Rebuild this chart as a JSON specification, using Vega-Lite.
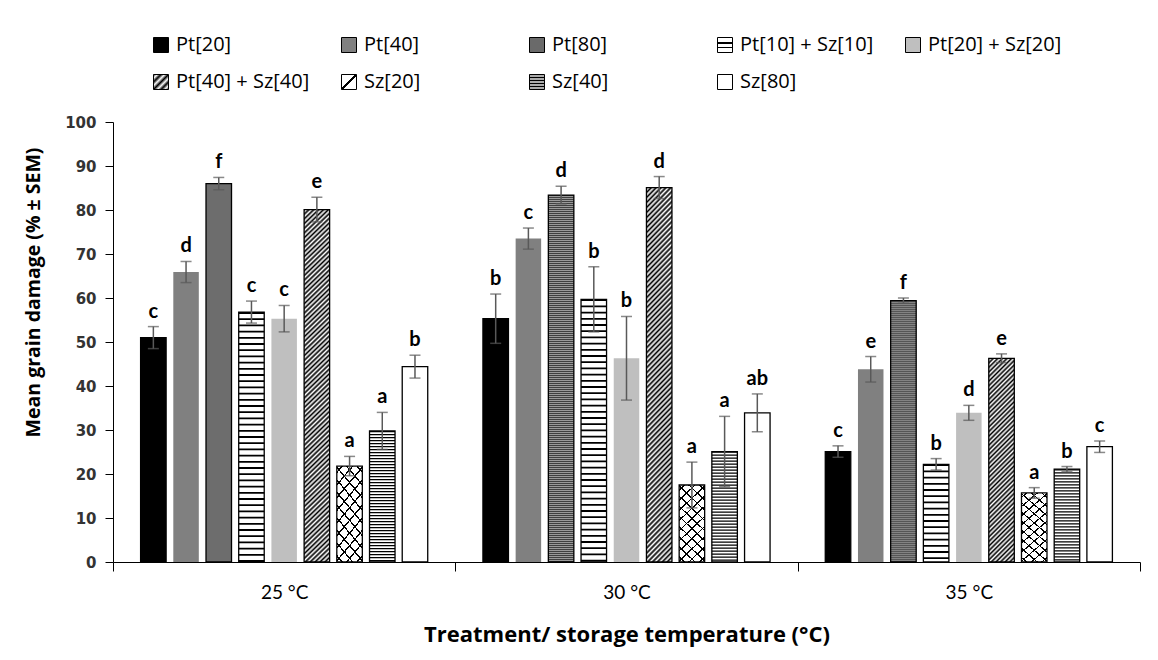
{
  "$schema": "https://vega.github.io/schema/vega-lite/v6.json",
  "width": 1027,
  "height": 440,
  "autosize": {"type": "none"},
  "padding": {"left": 113, "top": 122, "right": 18, "bottom": 98},
  "background": "white",
  "config": {"view": {"stroke": null}, "font": "Lato", "axis": {"grid": false}},
  "data": {"values": [
    {"temp": "25 °C", "treatment": "Pt[20]", "mean": 51.0, "lo": 48.5, "hi": 53.5, "letter": "c"},
    {"temp": "25 °C", "treatment": "Pt[40]", "mean": 65.9, "lo": 63.5, "hi": 68.3, "letter": "d"},
    {"temp": "25 °C", "treatment": "Pt[80]", "mean": 86.0, "lo": 84.6, "hi": 87.4, "letter": "f"},
    {"temp": "25 °C", "treatment": "Pt[10] + Sz[10]", "mean": 56.8, "lo": 54.3, "hi": 59.3, "letter": "c"},
    {"temp": "25 °C", "treatment": "Pt[20] + Sz[20]", "mean": 55.3, "lo": 52.3, "hi": 58.3, "letter": "c"},
    {"temp": "25 °C", "treatment": "Pt[40] + Sz[40]", "mean": 80.1, "lo": 77.3, "hi": 82.9, "letter": "e"},
    {"temp": "25 °C", "treatment": "Sz[20]", "mean": 21.8, "lo": 19.6, "hi": 24.0, "letter": "a"},
    {"temp": "25 °C", "treatment": "Sz[40]", "mean": 29.8, "lo": 25.6, "hi": 34.0, "letter": "a"},
    {"temp": "25 °C", "treatment": "Sz[80]", "mean": 44.4, "lo": 41.8, "hi": 47.0, "letter": "b"},
    {"temp": "30 °C", "treatment": "Pt[20]", "mean": 55.3, "lo": 49.7, "hi": 60.9, "letter": "b"},
    {"temp": "30 °C", "treatment": "Pt[40]", "mean": 73.5, "lo": 71.1, "hi": 75.9, "letter": "c"},
    {"temp": "30 °C", "treatment": "Pt[80]", "mean": 83.4, "lo": 81.4, "hi": 85.4, "letter": "d"},
    {"temp": "30 °C", "treatment": "Pt[10] + Sz[10]", "mean": 59.7, "lo": 52.3, "hi": 67.1, "letter": "b"},
    {"temp": "30 °C", "treatment": "Pt[20] + Sz[20]", "mean": 46.3, "lo": 36.8, "hi": 55.8, "letter": "b"},
    {"temp": "30 °C", "treatment": "Pt[40] + Sz[40]", "mean": 85.1, "lo": 82.6, "hi": 87.6, "letter": "d"},
    {"temp": "30 °C", "treatment": "Sz[20]", "mean": 17.5, "lo": 12.3, "hi": 22.7, "letter": "a"},
    {"temp": "30 °C", "treatment": "Sz[40]", "mean": 25.1, "lo": 17.1, "hi": 33.1, "letter": "a"},
    {"temp": "30 °C", "treatment": "Sz[80]", "mean": 33.9, "lo": 29.6, "hi": 38.2, "letter": "ab"},
    {"temp": "35 °C", "treatment": "Pt[20]", "mean": 25.1, "lo": 23.8, "hi": 26.4, "letter": "c"},
    {"temp": "35 °C", "treatment": "Pt[40]", "mean": 43.8, "lo": 40.9, "hi": 46.7, "letter": "e"},
    {"temp": "35 °C", "treatment": "Pt[80]", "mean": 59.4, "lo": 58.8, "hi": 60.0, "letter": "f"},
    {"temp": "35 °C", "treatment": "Pt[10] + Sz[10]", "mean": 22.2, "lo": 20.9, "hi": 23.5, "letter": "b"},
    {"temp": "35 °C", "treatment": "Pt[20] + Sz[20]", "mean": 33.9, "lo": 32.2, "hi": 35.6, "letter": "d"},
    {"temp": "35 °C", "treatment": "Pt[40] + Sz[40]", "mean": 46.3, "lo": 45.3, "hi": 47.3, "letter": "e"},
    {"temp": "35 °C", "treatment": "Sz[20]", "mean": 15.7, "lo": 14.5, "hi": 16.9, "letter": "a"},
    {"temp": "35 °C", "treatment": "Sz[40]", "mean": 21.1, "lo": 20.5, "hi": 21.7, "letter": "b"},
    {"temp": "35 °C", "treatment": "Sz[80]", "mean": 26.2, "lo": 24.9, "hi": 27.5, "letter": "c"}
  ]},
  "encoding": {
    "x": {
      "field": "temp", "type": "nominal", "sort": ["25 °C", "30 °C", "35 °C"],
      "scale": {"paddingInner": 0, "paddingOuter": 0},
      "axis": {
        "title": "Treatment/ storage temperature (°C)", "labelAngle": 0, "tickBand": "extent",
        "tickSize": 9, "tickColor": "#000", "domainColor": "#000", "grid": false,
        "labelFont": "Lato", "labelFontSize": 19, "labelColor": "#000", "labelPadding": 12,
        "titleFont": "Open Sans", "titleFontSize": 22, "titleFontWeight": "bold", "titleColor": "#000",
        "titleY": 72, "titleBaseline": "middle"
      }
    },
    "xOffset": {
      "field": "treatment", "type": "nominal",
      "sort": ["Pt[20]", "Pt[40]", "Pt[80]", "Pt[10] + Sz[10]", "Pt[20] + Sz[20]", "Pt[40] + Sz[40]", "Sz[20]", "Sz[40]", "Sz[80]"],
      "scale": {"paddingInner": 0.22, "paddingOuter": 0.844}
    }
  },
  "layer": [
    {
      "mark": {"type": "bar"},
      "encoding": {
        "y": {
          "field": "mean", "type": "quantitative", "scale": {"domain": [0, 100]},
          "axis": {
            "title": "Mean grain damage (% ± SEM)", "values": [0, 10, 20, 30, 40, 50, 60, 70, 80, 90, 100],
            "grid": false, "tickSize": 8, "tickColor": "#000", "domainColor": "#000",
            "labelFont": "DejaVu Sans", "labelFontWeight": "bold", "labelFontSize": 15, "labelColor": "#333", "labelPadding": 9,
            "titleFont": "Open Sans", "titleFontSize": 19.5, "titleFontWeight": "bold", "titleColor": "#000",
            "titleX": -89, "titleY": 170, "titleAngle": -90, "titleAlign": "center", "titleBaseline": "top"
          }
        },
        "fill": {
          "field": "treatment", "type": "nominal",
          "scale": {
            "domain": ["Pt[20]", "Pt[40]", "Pt[80]", "Pt[10] + Sz[10]", "Pt[20] + Sz[20]", "Pt[40] + Sz[40]", "Sz[20]", "Sz[40]", "Sz[80]"],
            "range": [
              "#000000",
              "#808080",
              "#6a6a6a",
              {"expr": "{gradient: 'linear', x1: 1, y1: 0, x2: 1, y2: 1, stops: [{offset: 0, color: '#fff'}, {offset: 0.3, color: '#fff'}, {offset: 0.3, color: '#000'}, {offset: 0.4, color: '#000'}, {offset: 0.4, color: '#fff'}, {offset: 0.6, color: '#fff'}, {offset: 0.6, color: '#000'}, {offset: 0.7, color: '#000'}, {offset: 0.7, color: '#fff'}, {offset: 1, color: '#fff'}]}"},
              "#bfbfbf",
              {"expr": "{gradient: 'linear', x1: 0, y1: 0, x2: 1, y2: 1, stops: [{offset: 0, color: '#000'}, {offset: 0.125, color: '#fff'}, {offset: 0.25, color: '#000'}, {offset: 0.375, color: '#fff'}, {offset: 0.5, color: '#000'}, {offset: 0.625, color: '#fff'}, {offset: 0.75, color: '#000'}, {offset: 0.875, color: '#fff'}, {offset: 1, color: '#000'}]}"},
              {"expr": "{gradient: 'linear', x1: 0, y1: 0, x2: 1, y2: 1, stops: [{offset: 0, color: '#fff'}, {offset: 0.44, color: '#fff'}, {offset: 0.44, color: '#000'}, {offset: 0.56, color: '#000'}, {offset: 0.56, color: '#fff'}, {offset: 1, color: '#fff'}]}"},
              {"expr": "{gradient: 'linear', x1: 1, y1: 0, x2: 1, y2: 1, stops: [{offset: 0, color: '#000'}, {offset: 0.1, color: '#fff'}, {offset: 0.2, color: '#000'}, {offset: 0.3, color: '#fff'}, {offset: 0.4, color: '#000'}, {offset: 0.5, color: '#fff'}, {offset: 0.6, color: '#000'}, {offset: 0.7, color: '#fff'}, {offset: 0.8, color: '#000'}, {offset: 0.9, color: '#fff'}, {offset: 1, color: '#000'}]}"},
              "#ffffff"
            ]
          },
          "legend": {
            "title": null, "orient": "none", "legendX": 38, "legendY": -87, "direction": "horizontal", "columns": 5,
            "gridAlign": "all", "columnPadding": 29, "rowPadding": 17, "padding": 0,
            "symbolType": "square", "symbolSize": 225, "symbolStrokeColor": "#000", "symbolStrokeWidth": 1, "symbolOpacity": 1,
            "labelFont": "Open Sans", "labelFontSize": 20, "labelColor": "#000", "labelOffset": 5, "labelLimit": 300
          }
        }
      }
    },
    {
      "transform": [{"filter": "datum.treatment === 'Pt[80]' || datum.treatment === 'Pt[10] + Sz[10]' || datum.treatment === 'Sz[20]' || datum.treatment === 'Sz[40]'"}],
      "mark": {"type": "bar"},
      "encoding": {
        "y": {"field": "mean", "type": "quantitative", "title": "Mean grain damage (% ± SEM)"},
        "fill": {"condition": {"test": "datum.treatment === 'Pt[80]'", "value": "#9a9a9a"}, "value": "#ffffff"}
      }
    },
    {
      "transform": [{"filter": "datum.treatment === 'Pt[80]'"}],
      "mark": {"type": "rule", "strokeWidth": 25.5, "strokeDash": [1, 1], "color": "#404040"},
      "encoding": {"y": {"field": "mean", "type": "quantitative", "title": "Mean grain damage (% ± SEM)"}, "y2": {"datum": 0}}
    },
    {
      "transform": [{"filter": "datum.treatment === 'Pt[10] + Sz[10]'"}],
      "mark": {"type": "rule", "strokeWidth": 25.5, "strokeDash": [1.8, 4.4], "color": "#000"},
      "encoding": {"y": {"field": "mean", "type": "quantitative", "title": "Mean grain damage (% ± SEM)"}, "y2": {"datum": 0}}
    },
    {
      "transform": [{"filter": "datum.treatment === 'Sz[40]'"}],
      "mark": {"type": "rule", "strokeWidth": 25.5, "strokeDash": [1.3, 1.7], "color": "#000"},
      "encoding": {"y": {"field": "mean", "type": "quantitative", "title": "Mean grain damage (% ± SEM)"}, "y2": {"datum": 0}}
    },
    {
      "transform": [{"filter": "datum.treatment === 'Pt[40] + Sz[40]'"}],
      "mark": {"type": "bar"},
      "encoding": {
        "y": {"field": "mean", "type": "quantitative", "title": "Mean grain damage (% ± SEM)"},
        "fill": {
          "condition": {
            "test": "datum.temp === '35 °C'",
            "value": {"gradient": "linear", "x1": 0, "y1": 0, "x2": 0.1381, "y2": 1.1075, "stops": [
              {"offset": 0, "color": "#000"}, {"offset": 0.01, "color": "#fff"}, {"offset": 0.02, "color": "#000"}, {"offset": 0.03, "color": "#fff"}, {"offset": 0.04, "color": "#000"}, {"offset": 0.05, "color": "#fff"}, {"offset": 0.06, "color": "#000"}, {"offset": 0.07, "color": "#fff"}, {"offset": 0.08, "color": "#000"}, {"offset": 0.09, "color": "#fff"},
              {"offset": 0.1, "color": "#000"}, {"offset": 0.11, "color": "#fff"}, {"offset": 0.12, "color": "#000"}, {"offset": 0.13, "color": "#fff"}, {"offset": 0.14, "color": "#000"}, {"offset": 0.15, "color": "#fff"}, {"offset": 0.16, "color": "#000"}, {"offset": 0.17, "color": "#fff"}, {"offset": 0.18, "color": "#000"}, {"offset": 0.19, "color": "#fff"},
              {"offset": 0.2, "color": "#000"}, {"offset": 0.21, "color": "#fff"}, {"offset": 0.22, "color": "#000"}, {"offset": 0.23, "color": "#fff"}, {"offset": 0.24, "color": "#000"}, {"offset": 0.25, "color": "#fff"}, {"offset": 0.26, "color": "#000"}, {"offset": 0.27, "color": "#fff"}, {"offset": 0.28, "color": "#000"}, {"offset": 0.29, "color": "#fff"},
              {"offset": 0.3, "color": "#000"}, {"offset": 0.31, "color": "#fff"}, {"offset": 0.32, "color": "#000"}, {"offset": 0.33, "color": "#fff"}, {"offset": 0.34, "color": "#000"}, {"offset": 0.35, "color": "#fff"}, {"offset": 0.36, "color": "#000"}, {"offset": 0.37, "color": "#fff"}, {"offset": 0.38, "color": "#000"}, {"offset": 0.39, "color": "#fff"},
              {"offset": 0.4, "color": "#000"}, {"offset": 0.41, "color": "#fff"}, {"offset": 0.42, "color": "#000"}, {"offset": 0.43, "color": "#fff"}, {"offset": 0.44, "color": "#000"}, {"offset": 0.45, "color": "#fff"}, {"offset": 0.46, "color": "#000"}, {"offset": 0.47, "color": "#fff"}, {"offset": 0.48, "color": "#000"}, {"offset": 0.49, "color": "#fff"},
              {"offset": 0.5, "color": "#000"}, {"offset": 0.51, "color": "#fff"}, {"offset": 0.52, "color": "#000"}, {"offset": 0.53, "color": "#fff"}, {"offset": 0.54, "color": "#000"}, {"offset": 0.55, "color": "#fff"}, {"offset": 0.56, "color": "#000"}, {"offset": 0.57, "color": "#fff"}, {"offset": 0.58, "color": "#000"}, {"offset": 0.59, "color": "#fff"},
              {"offset": 0.6, "color": "#000"}, {"offset": 0.61, "color": "#fff"}, {"offset": 0.62, "color": "#000"}, {"offset": 0.63, "color": "#fff"}, {"offset": 0.64, "color": "#000"}, {"offset": 0.65, "color": "#fff"}, {"offset": 0.66, "color": "#000"}, {"offset": 0.67, "color": "#fff"}, {"offset": 0.68, "color": "#000"}, {"offset": 0.69, "color": "#fff"},
              {"offset": 0.7, "color": "#000"}, {"offset": 0.71, "color": "#fff"}, {"offset": 0.72, "color": "#000"}, {"offset": 0.73, "color": "#fff"}, {"offset": 0.74, "color": "#000"}, {"offset": 0.75, "color": "#fff"}, {"offset": 0.76, "color": "#000"}, {"offset": 0.77, "color": "#fff"}, {"offset": 0.78, "color": "#000"}, {"offset": 0.79, "color": "#fff"},
              {"offset": 0.8, "color": "#000"}, {"offset": 0.81, "color": "#fff"}, {"offset": 0.82, "color": "#000"}, {"offset": 0.83, "color": "#fff"}, {"offset": 0.84, "color": "#000"}, {"offset": 0.85, "color": "#fff"}, {"offset": 0.86, "color": "#000"}, {"offset": 0.87, "color": "#fff"}, {"offset": 0.88, "color": "#000"}, {"offset": 0.89, "color": "#fff"},
              {"offset": 0.9, "color": "#000"}, {"offset": 0.91, "color": "#fff"}, {"offset": 0.92, "color": "#000"}, {"offset": 0.93, "color": "#fff"}, {"offset": 0.94, "color": "#000"}, {"offset": 0.95, "color": "#fff"}, {"offset": 0.96, "color": "#000"}, {"offset": 0.97, "color": "#fff"}, {"offset": 0.98, "color": "#000"}, {"offset": 0.99, "color": "#fff"},
              {"offset": 1, "color": "#000"}
            ]}
          },
          "value": {"gradient": "linear", "x1": 0, "y1": 0, "x2": 0.0745, "y2": 1.065, "stops": [
            {"offset": 0, "color": "#000"}, {"offset": 0.00625, "color": "#fff"}, {"offset": 0.0125, "color": "#000"}, {"offset": 0.01875, "color": "#fff"}, {"offset": 0.025, "color": "#000"}, {"offset": 0.03125, "color": "#fff"}, {"offset": 0.0375, "color": "#000"}, {"offset": 0.04375, "color": "#fff"}, {"offset": 0.05, "color": "#000"}, {"offset": 0.05625, "color": "#fff"}, {"offset": 0.0625, "color": "#000"}, {"offset": 0.06875, "color": "#fff"}, {"offset": 0.075, "color": "#000"}, {"offset": 0.08125, "color": "#fff"}, {"offset": 0.0875, "color": "#000"}, {"offset": 0.09375, "color": "#fff"},
            {"offset": 0.1, "color": "#000"}, {"offset": 0.10625, "color": "#fff"}, {"offset": 0.1125, "color": "#000"}, {"offset": 0.11875, "color": "#fff"}, {"offset": 0.125, "color": "#000"}, {"offset": 0.13125, "color": "#fff"}, {"offset": 0.1375, "color": "#000"}, {"offset": 0.14375, "color": "#fff"}, {"offset": 0.15, "color": "#000"}, {"offset": 0.15625, "color": "#fff"}, {"offset": 0.1625, "color": "#000"}, {"offset": 0.16875, "color": "#fff"}, {"offset": 0.175, "color": "#000"}, {"offset": 0.18125, "color": "#fff"}, {"offset": 0.1875, "color": "#000"}, {"offset": 0.19375, "color": "#fff"},
            {"offset": 0.2, "color": "#000"}, {"offset": 0.20625, "color": "#fff"}, {"offset": 0.2125, "color": "#000"}, {"offset": 0.21875, "color": "#fff"}, {"offset": 0.225, "color": "#000"}, {"offset": 0.23125, "color": "#fff"}, {"offset": 0.2375, "color": "#000"}, {"offset": 0.24375, "color": "#fff"}, {"offset": 0.25, "color": "#000"}, {"offset": 0.25625, "color": "#fff"}, {"offset": 0.2625, "color": "#000"}, {"offset": 0.26875, "color": "#fff"}, {"offset": 0.275, "color": "#000"}, {"offset": 0.28125, "color": "#fff"}, {"offset": 0.2875, "color": "#000"}, {"offset": 0.29375, "color": "#fff"},
            {"offset": 0.3, "color": "#000"}, {"offset": 0.30625, "color": "#fff"}, {"offset": 0.3125, "color": "#000"}, {"offset": 0.31875, "color": "#fff"}, {"offset": 0.325, "color": "#000"}, {"offset": 0.33125, "color": "#fff"}, {"offset": 0.3375, "color": "#000"}, {"offset": 0.34375, "color": "#fff"}, {"offset": 0.35, "color": "#000"}, {"offset": 0.35625, "color": "#fff"}, {"offset": 0.3625, "color": "#000"}, {"offset": 0.36875, "color": "#fff"}, {"offset": 0.375, "color": "#000"}, {"offset": 0.38125, "color": "#fff"}, {"offset": 0.3875, "color": "#000"}, {"offset": 0.39375, "color": "#fff"},
            {"offset": 0.4, "color": "#000"}, {"offset": 0.40625, "color": "#fff"}, {"offset": 0.4125, "color": "#000"}, {"offset": 0.41875, "color": "#fff"}, {"offset": 0.425, "color": "#000"}, {"offset": 0.43125, "color": "#fff"}, {"offset": 0.4375, "color": "#000"}, {"offset": 0.44375, "color": "#fff"}, {"offset": 0.45, "color": "#000"}, {"offset": 0.45625, "color": "#fff"}, {"offset": 0.4625, "color": "#000"}, {"offset": 0.46875, "color": "#fff"}, {"offset": 0.475, "color": "#000"}, {"offset": 0.48125, "color": "#fff"}, {"offset": 0.4875, "color": "#000"}, {"offset": 0.49375, "color": "#fff"},
            {"offset": 0.5, "color": "#000"}, {"offset": 0.50625, "color": "#fff"}, {"offset": 0.5125, "color": "#000"}, {"offset": 0.51875, "color": "#fff"}, {"offset": 0.525, "color": "#000"}, {"offset": 0.53125, "color": "#fff"}, {"offset": 0.5375, "color": "#000"}, {"offset": 0.54375, "color": "#fff"}, {"offset": 0.55, "color": "#000"}, {"offset": 0.55625, "color": "#fff"}, {"offset": 0.5625, "color": "#000"}, {"offset": 0.56875, "color": "#fff"}, {"offset": 0.575, "color": "#000"}, {"offset": 0.58125, "color": "#fff"}, {"offset": 0.5875, "color": "#000"}, {"offset": 0.59375, "color": "#fff"},
            {"offset": 0.6, "color": "#000"}, {"offset": 0.60625, "color": "#fff"}, {"offset": 0.6125, "color": "#000"}, {"offset": 0.61875, "color": "#fff"}, {"offset": 0.625, "color": "#000"}, {"offset": 0.63125, "color": "#fff"}, {"offset": 0.6375, "color": "#000"}, {"offset": 0.64375, "color": "#fff"}, {"offset": 0.65, "color": "#000"}, {"offset": 0.65625, "color": "#fff"}, {"offset": 0.6625, "color": "#000"}, {"offset": 0.66875, "color": "#fff"}, {"offset": 0.675, "color": "#000"}, {"offset": 0.68125, "color": "#fff"}, {"offset": 0.6875, "color": "#000"}, {"offset": 0.69375, "color": "#fff"},
            {"offset": 0.7, "color": "#000"}, {"offset": 0.70625, "color": "#fff"}, {"offset": 0.7125, "color": "#000"}, {"offset": 0.71875, "color": "#fff"}, {"offset": 0.725, "color": "#000"}, {"offset": 0.73125, "color": "#fff"}, {"offset": 0.7375, "color": "#000"}, {"offset": 0.74375, "color": "#fff"}, {"offset": 0.75, "color": "#000"}, {"offset": 0.75625, "color": "#fff"}, {"offset": 0.7625, "color": "#000"}, {"offset": 0.76875, "color": "#fff"}, {"offset": 0.775, "color": "#000"}, {"offset": 0.78125, "color": "#fff"}, {"offset": 0.7875, "color": "#000"}, {"offset": 0.79375, "color": "#fff"},
            {"offset": 0.8, "color": "#000"}, {"offset": 0.80625, "color": "#fff"}, {"offset": 0.8125, "color": "#000"}, {"offset": 0.81875, "color": "#fff"}, {"offset": 0.825, "color": "#000"}, {"offset": 0.83125, "color": "#fff"}, {"offset": 0.8375, "color": "#000"}, {"offset": 0.84375, "color": "#fff"}, {"offset": 0.85, "color": "#000"}, {"offset": 0.85625, "color": "#fff"}, {"offset": 0.8625, "color": "#000"}, {"offset": 0.86875, "color": "#fff"}, {"offset": 0.875, "color": "#000"}, {"offset": 0.88125, "color": "#fff"}, {"offset": 0.8875, "color": "#000"}, {"offset": 0.89375, "color": "#fff"},
            {"offset": 0.9, "color": "#000"}, {"offset": 0.90625, "color": "#fff"}, {"offset": 0.9125, "color": "#000"}, {"offset": 0.91875, "color": "#fff"}, {"offset": 0.925, "color": "#000"}, {"offset": 0.93125, "color": "#fff"}, {"offset": 0.9375, "color": "#000"}, {"offset": 0.94375, "color": "#fff"}, {"offset": 0.95, "color": "#000"}, {"offset": 0.95625, "color": "#fff"}, {"offset": 0.9625, "color": "#000"}, {"offset": 0.96875, "color": "#fff"}, {"offset": 0.975, "color": "#000"}, {"offset": 0.98125, "color": "#fff"}, {"offset": 0.9875, "color": "#000"}, {"offset": 0.99375, "color": "#fff"},
            {"offset": 1, "color": "#000"}
          ]}
        }
      }
    },
    {
      "transform": [{"filter": "datum.treatment === 'Sz[20]'"}],
      "mark": {"type": "bar", "fill": {"gradient": "linear", "x1": 0, "y1": 0, "x2": 0.38, "y2": 1.197, "stops": [
        {"offset": 0, "color": "rgba(255,255,255,0)"},
        {"offset": 0.042, "color": "rgba(255,255,255,0)"}, {"offset": 0.042, "color": "#000"}, {"offset": 0.058, "color": "#000"}, {"offset": 0.058, "color": "rgba(255,255,255,0)"},
        {"offset": 0.142, "color": "rgba(255,255,255,0)"}, {"offset": 0.142, "color": "#000"}, {"offset": 0.158, "color": "#000"}, {"offset": 0.158, "color": "rgba(255,255,255,0)"},
        {"offset": 0.242, "color": "rgba(255,255,255,0)"}, {"offset": 0.242, "color": "#000"}, {"offset": 0.258, "color": "#000"}, {"offset": 0.258, "color": "rgba(255,255,255,0)"},
        {"offset": 0.342, "color": "rgba(255,255,255,0)"}, {"offset": 0.342, "color": "#000"}, {"offset": 0.358, "color": "#000"}, {"offset": 0.358, "color": "rgba(255,255,255,0)"},
        {"offset": 0.442, "color": "rgba(255,255,255,0)"}, {"offset": 0.442, "color": "#000"}, {"offset": 0.458, "color": "#000"}, {"offset": 0.458, "color": "rgba(255,255,255,0)"},
        {"offset": 0.542, "color": "rgba(255,255,255,0)"}, {"offset": 0.542, "color": "#000"}, {"offset": 0.558, "color": "#000"}, {"offset": 0.558, "color": "rgba(255,255,255,0)"},
        {"offset": 0.642, "color": "rgba(255,255,255,0)"}, {"offset": 0.642, "color": "#000"}, {"offset": 0.658, "color": "#000"}, {"offset": 0.658, "color": "rgba(255,255,255,0)"},
        {"offset": 0.742, "color": "rgba(255,255,255,0)"}, {"offset": 0.742, "color": "#000"}, {"offset": 0.758, "color": "#000"}, {"offset": 0.758, "color": "rgba(255,255,255,0)"},
        {"offset": 0.842, "color": "rgba(255,255,255,0)"}, {"offset": 0.842, "color": "#000"}, {"offset": 0.858, "color": "#000"}, {"offset": 0.858, "color": "rgba(255,255,255,0)"},
        {"offset": 0.942, "color": "rgba(255,255,255,0)"}, {"offset": 0.942, "color": "#000"}, {"offset": 0.958, "color": "#000"}, {"offset": 0.958, "color": "rgba(255,255,255,0)"},
        {"offset": 1, "color": "rgba(255,255,255,0)"}
      ]}},
      "encoding": {"y": {"field": "mean", "type": "quantitative", "title": "Mean grain damage (% ± SEM)"}}
    },
    {
      "transform": [{"filter": "datum.treatment === 'Sz[20]'"}],
      "mark": {"type": "bar", "fill": {"gradient": "linear", "x1": 0, "y1": 1, "x2": 0.38, "y2": -0.197, "stops": [
        {"offset": 0, "color": "rgba(255,255,255,0)"},
        {"offset": 0.042, "color": "rgba(255,255,255,0)"}, {"offset": 0.042, "color": "#000"}, {"offset": 0.058, "color": "#000"}, {"offset": 0.058, "color": "rgba(255,255,255,0)"},
        {"offset": 0.142, "color": "rgba(255,255,255,0)"}, {"offset": 0.142, "color": "#000"}, {"offset": 0.158, "color": "#000"}, {"offset": 0.158, "color": "rgba(255,255,255,0)"},
        {"offset": 0.242, "color": "rgba(255,255,255,0)"}, {"offset": 0.242, "color": "#000"}, {"offset": 0.258, "color": "#000"}, {"offset": 0.258, "color": "rgba(255,255,255,0)"},
        {"offset": 0.342, "color": "rgba(255,255,255,0)"}, {"offset": 0.342, "color": "#000"}, {"offset": 0.358, "color": "#000"}, {"offset": 0.358, "color": "rgba(255,255,255,0)"},
        {"offset": 0.442, "color": "rgba(255,255,255,0)"}, {"offset": 0.442, "color": "#000"}, {"offset": 0.458, "color": "#000"}, {"offset": 0.458, "color": "rgba(255,255,255,0)"},
        {"offset": 0.542, "color": "rgba(255,255,255,0)"}, {"offset": 0.542, "color": "#000"}, {"offset": 0.558, "color": "#000"}, {"offset": 0.558, "color": "rgba(255,255,255,0)"},
        {"offset": 0.642, "color": "rgba(255,255,255,0)"}, {"offset": 0.642, "color": "#000"}, {"offset": 0.658, "color": "#000"}, {"offset": 0.658, "color": "rgba(255,255,255,0)"},
        {"offset": 0.742, "color": "rgba(255,255,255,0)"}, {"offset": 0.742, "color": "#000"}, {"offset": 0.758, "color": "#000"}, {"offset": 0.758, "color": "rgba(255,255,255,0)"},
        {"offset": 0.842, "color": "rgba(255,255,255,0)"}, {"offset": 0.842, "color": "#000"}, {"offset": 0.858, "color": "#000"}, {"offset": 0.858, "color": "rgba(255,255,255,0)"},
        {"offset": 0.942, "color": "rgba(255,255,255,0)"}, {"offset": 0.942, "color": "#000"}, {"offset": 0.958, "color": "#000"}, {"offset": 0.958, "color": "rgba(255,255,255,0)"},
        {"offset": 1, "color": "rgba(255,255,255,0)"}
      ]}},
      "encoding": {"y": {"field": "mean", "type": "quantitative", "title": "Mean grain damage (% ± SEM)"}}
    },
    {
      "transform": [{"filter": "datum.treatment !== 'Pt[40]' && datum.treatment !== 'Pt[20] + Sz[20]'"}],
      "mark": {"type": "bar", "fillOpacity": 0, "stroke": "#000", "strokeWidth": 1.3},
      "encoding": {"y": {"field": "mean", "type": "quantitative", "title": "Mean grain damage (% ± SEM)"}}
    },
    {
      "mark": {"type": "rule", "color": "#595959", "strokeWidth": 1.5},
      "encoding": {"y": {"field": "lo", "type": "quantitative", "title": "Mean grain damage (% ± SEM)"}, "y2": {"field": "hi"}}
    },
    {
      "mark": {"type": "tick", "orient": "horizontal", "size": 11, "thickness": 1.5, "color": "#595959"},
      "encoding": {"y": {"field": "hi", "type": "quantitative", "title": "Mean grain damage (% ± SEM)"}}
    },
    {
      "mark": {"type": "tick", "orient": "horizontal", "size": 11, "thickness": 1.5, "color": "#595959"},
      "encoding": {"y": {"field": "lo", "type": "quantitative", "title": "Mean grain damage (% ± SEM)"}}
    },
    {
      "mark": {"type": "text", "font": "Lato", "fontWeight": "bold", "fontSize": 20, "baseline": "alphabetic", "dy": -9, "color": "#000"},
      "encoding": {"y": {"field": "hi", "type": "quantitative", "title": "Mean grain damage (% ± SEM)"}, "text": {"field": "letter"}}
    }
  ]
}
